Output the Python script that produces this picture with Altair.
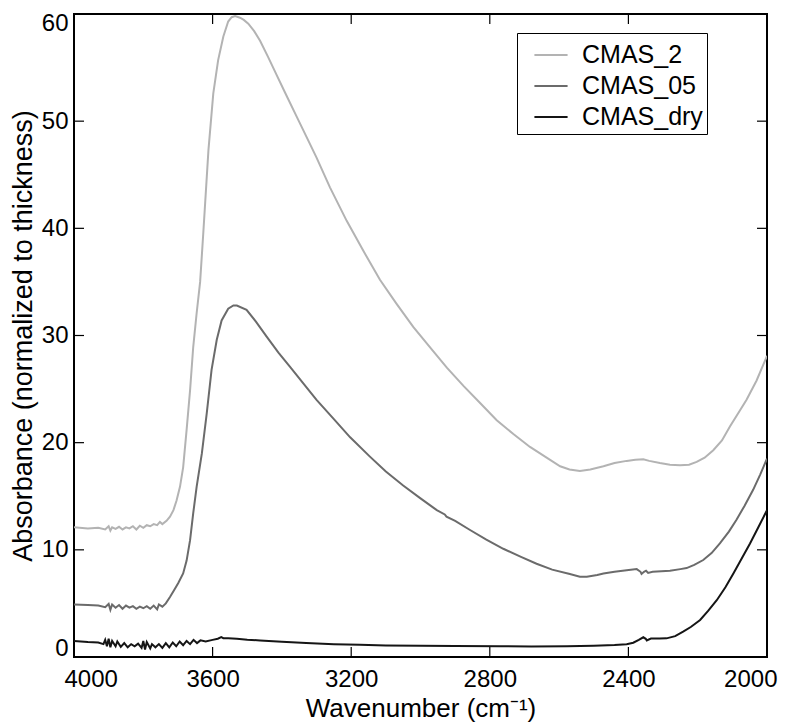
import altair as alt
import pandas as pd

# ---- data ----
series_names = ["CMAS_2", "CMAS_05", "CMAS_dry"]
series_colors = ["#b3b3b3", "#6b6b6b", "#151515"]

x_ticks = [4000, 3600, 3200, 2800, 2400, 2000]
y_ticks = [0, 10, 20, 30, 40, 50, 60]
x_inner_ticks = [3600, 3200, 2800, 2400]
y_inner_ticks = [10, 20, 30, 40, 50]

wn_2 = [4000, 3960, 3930, 3910, 3900, 3895, 3890, 3880, 3870, 3860, 3850, 3840,
        3830, 3820, 3810, 3800, 3790, 3780, 3770, 3760, 3752, 3745, 3733, 3723,
        3713, 3704, 3694, 3685, 3675, 3665, 3656, 3646, 3636, 3627, 3612, 3598,
        3584, 3569, 3555, 3545, 3535, 3521, 3510, 3497, 3480, 3463, 3440, 3415,
        3390, 3357, 3330, 3300, 3261, 3213, 3165, 3117, 3070, 3021, 2970, 2924,
        2876, 2828, 2780, 2732, 2684, 2636, 2597, 2570, 2540, 2510, 2472, 2440,
        2405, 2380, 2357, 2340, 2309, 2280, 2251, 2225, 2203, 2180, 2155, 2130,
        2107, 2080, 2059, 2030, 2000]
ab_2 = [12.1, 12.0, 12.05, 11.9, 12.2, 11.8, 12.1, 11.95, 12.15, 11.9, 12.1, 12.0,
        12.2, 11.9, 12.25, 12.05, 12.3, 12.2, 12.4, 12.3, 12.6, 12.4, 12.7, 13.1,
        13.7, 14.6, 15.9, 17.7, 21.2, 24.9, 28.9, 32.1, 35.0, 39.5, 47.3, 52.6,
        55.7, 57.9, 59.3, 59.7, 59.8, 59.65, 59.45, 59.1, 58.4, 57.5, 56.0, 54.3,
        52.6, 50.4, 48.6, 46.6, 43.8, 40.7, 37.9, 35.2, 33.0, 30.8, 28.8, 27.0,
        25.3, 23.7, 22.1, 20.8, 19.6, 18.6, 17.8, 17.5, 17.35, 17.5, 17.8, 18.1,
        18.3, 18.4, 18.45, 18.3, 18.1, 17.95, 17.9, 17.95, 18.2, 18.6, 19.3, 20.2,
        21.5, 22.9, 24.0, 25.8, 28.1]

wn_05 = [4000, 3960, 3930, 3910, 3900, 3895, 3890, 3880, 3870, 3860, 3850, 3840,
         3830, 3820, 3810, 3800, 3790, 3780, 3770, 3760, 3755, 3745, 3735, 3723,
         3710, 3699, 3685, 3675, 3665, 3656, 3646, 3631, 3617, 3603, 3588, 3574,
         3555, 3540, 3530, 3502, 3475, 3444, 3410, 3377, 3340, 3300, 3250, 3203,
         3146, 3100, 3050, 3000, 2953, 2930, 2925, 2900, 2857, 2810, 2761, 2710,
         2665, 2620, 2569, 2540, 2520, 2490, 2472, 2440, 2405, 2376, 2365, 2362,
         2355, 2349, 2343, 2330, 2280, 2250, 2232, 2210, 2184, 2160, 2136, 2110,
         2088, 2065, 2040, 2020, 2000]
ab_05 = [4.9, 4.85, 4.8, 4.65, 4.95, 4.4, 4.9, 4.6, 4.85, 4.5, 4.8, 4.6,
         4.75, 4.5, 4.7, 4.55, 4.75, 4.5, 4.8, 4.45, 4.9, 4.7, 5.0, 5.6,
         6.3, 6.9, 7.8, 9.0, 10.9, 13.4, 15.9, 19.0, 22.7, 26.8, 29.6, 31.4,
         32.5, 32.8, 32.8, 32.4, 31.3, 29.9, 28.4, 27.1, 25.6, 24.0, 22.2, 20.5,
         18.7, 17.3, 16.0, 14.8, 13.7, 13.3, 13.1, 12.7, 11.85, 10.95, 10.1, 9.35,
         8.7, 8.15, 7.74, 7.5, 7.5, 7.65, 7.8, 7.95, 8.1, 8.2, 7.95, 7.75,
         7.95, 8.05, 7.85, 7.95, 8.05, 8.2, 8.3, 8.6, 9.05, 9.7, 10.6, 11.7,
         12.8, 14.1, 15.6, 17.0, 18.5]

wn_dry = [4000, 3960, 3930, 3915, 3910, 3905, 3900, 3895, 3890, 3880, 3875, 3865,
          3855, 3845, 3835, 3825, 3815, 3805, 3800, 3795, 3790, 3780, 3775, 3765,
          3755, 3745, 3735, 3725, 3715, 3705, 3695, 3685, 3675, 3665, 3655, 3645,
          3635, 3620, 3600, 3585, 3575, 3569, 3555, 3530, 3500, 3463, 3400, 3330,
          3250, 3175, 3100, 3000, 2900, 2771, 2680, 2578, 2500, 2440, 2405, 2386,
          2370, 2357, 2350, 2347, 2335, 2310, 2290, 2265, 2242, 2220, 2193, 2170,
          2145, 2120, 2097, 2073, 2049, 2025, 2000]
ab_dry = [1.5, 1.4, 1.35, 1.2, 1.6, 1.0, 1.7, 0.9, 1.5, 1.0, 1.45, 0.95,
          1.3, 0.9, 1.2, 1.0, 1.25, 0.85, 1.5, 0.7, 1.4, 0.8, 1.2, 0.9,
          1.2, 0.85, 1.3, 0.9, 1.35, 1.0, 1.45, 1.1, 1.5, 1.2, 1.6, 1.3,
          1.55, 1.45, 1.6, 1.7, 1.85, 1.75, 1.75, 1.7, 1.62, 1.55, 1.42, 1.3,
          1.2, 1.15, 1.08, 1.04, 1.02, 1.0, 0.98, 1.0, 1.05, 1.12, 1.2, 1.33,
          1.6, 1.84, 1.7, 1.55, 1.72, 1.72, 1.74, 1.95, 2.36, 2.8, 3.45, 4.3,
          5.3, 6.5, 7.8, 9.2, 10.6, 12.1, 13.7]

# ---- build table ----
frames = []
for name, w, a in [("CMAS_2", wn_2, ab_2), ("CMAS_05", wn_05, ab_05), ("CMAS_dry", wn_dry, ab_dry)]:
    frames.append(pd.DataFrame({"wavenumber": w, "absorbance": a, "sample": name}))
df = pd.concat(frames, ignore_index=True)

W, H = 693, 643
FONT = "Liberation Sans"

xscale = alt.Scale(domain=[2000, 4000], reverse=True, nice=False, zero=False)
yscale = alt.Scale(domain=[0, 60], nice=False, zero=False)

lines = alt.Chart(df).mark_line(strokeWidth=2, clip=True).encode(
    x=alt.X("wavenumber:Q", scale=xscale,
            axis=alt.Axis(values=x_ticks, title="Wavenumber (cm⁻¹)", format="d",
                          ticks=False, domain=False, grid=False,
                          labelFontSize=24, labelPadding=10,
                          labelFlush=True, labelFlushOffset=10,
                          titleFontSize=26, titleFontWeight="normal", titlePadding=4)),
    y=alt.Y("absorbance:Q", scale=yscale,
            axis=alt.Axis(values=y_ticks, title="Absorbance (normalized to thickness)",
                          ticks=False, domain=False, grid=False,
                          labelFontSize=24, labelPadding=6,
                          labelFlush=True, labelFlushOffset=3,
                          titleFontSize=27, titleFontWeight="normal", titlePadding=4)),
    color=alt.Color("sample:N",
                    scale=alt.Scale(domain=series_names, range=series_colors),
                    legend=alt.Legend(title=None, orient="none", legendX=443, legendY=19,
                                      strokeColor="black", fillColor="white",
                                      padding=4, labelFontSize=25, labelFont=FONT,
                                      symbolType="stroke", symbolSize=1100,
                                      symbolStrokeWidth=2, symbolOffset=12,
                                      labelOffset=13, rowPadding=0,
                                      labelColor="black")),
)

xt = pd.DataFrame({"t": x_inner_ticks})
yt = pd.DataFrame({"t": y_inner_ticks})

x_bottom = alt.Chart(xt).mark_rule(color="black", strokeWidth=1.2).encode(
    x=alt.X("t:Q", scale=xscale), y=alt.value(H - 10), y2=alt.value(H))
x_top = alt.Chart(xt).mark_rule(color="black", strokeWidth=1.2).encode(
    x=alt.X("t:Q", scale=xscale), y=alt.value(0), y2=alt.value(10))
y_left = alt.Chart(yt).mark_rule(color="black", strokeWidth=1.2).encode(
    y=alt.Y("t:Q", scale=yscale), x=alt.value(0), x2=alt.value(10))
y_right = alt.Chart(yt).mark_rule(color="black", strokeWidth=1.2).encode(
    y=alt.Y("t:Q", scale=yscale), x=alt.value(W - 10), x2=alt.value(W))

chart = alt.layer(lines, x_bottom, x_top, y_left, y_right).properties(
    width=W, height=H,
    autosize=alt.AutoSizeParams(type="none"),
    padding={"left": 66, "top": 6, "right": 11, "bottom": 66},
).configure_view(
    stroke="black", strokeWidth=2
).configure_axis(
    labelFont=FONT, titleFont=FONT, labelColor="black", titleColor="black"
).configure_legend(
    labelFont=FONT
)

chart.save("out.html", embed_options={"renderer": "svg", "actions": False})
